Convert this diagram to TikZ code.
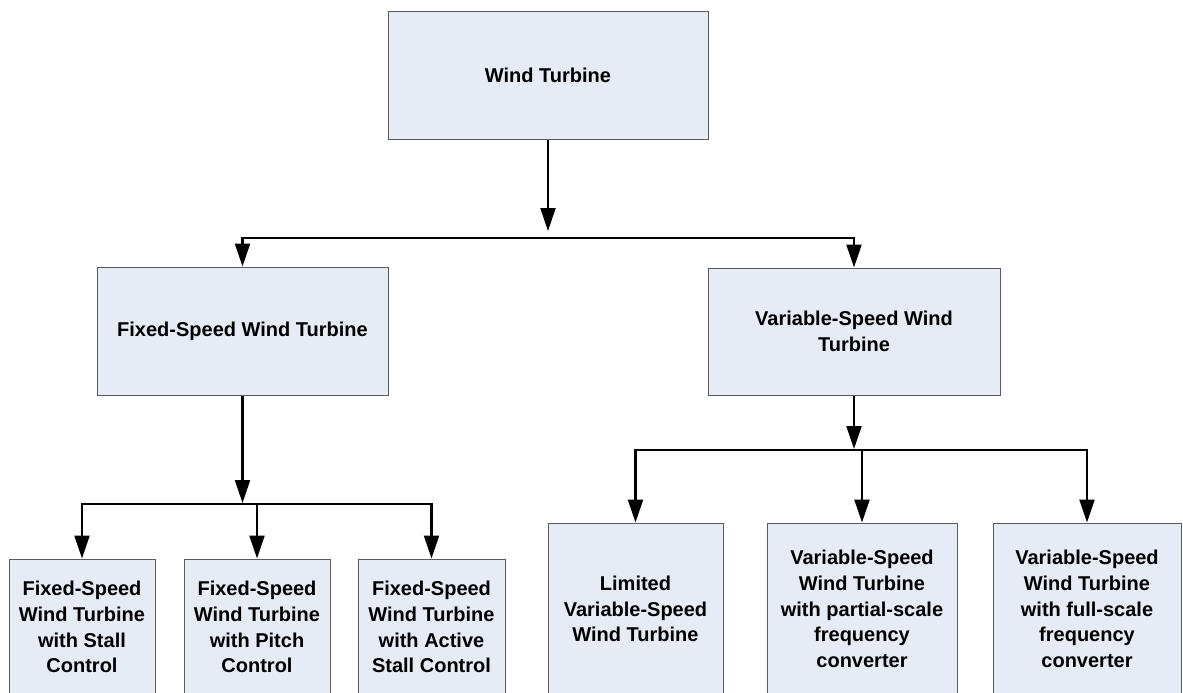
\documentclass[tikz,border=0pt]{standalone}
\usepackage{fontspec}
\setmainfont{Liberation Sans}
\usepackage{tikz}
\usetikzlibrary{arrows.meta}
\definecolor{boxfill}{RGB}{230,236,246}
\definecolor{boxline}{RGB}{90,90,90}

\begin{document}
\begin{tikzpicture}[x=1pt, y=-1pt, >={Triangle[length=23pt, width=15pt]},
  typebox/.style={draw=boxline, line width=1pt, fill=boxfill, align=center,
    inner sep=0pt, font=\fontsize{20}{25.7}\selectfont\bfseries},
  link/.style={->, line width=2.2pt}]

  \useasboundingbox (0,0) rectangle (1183,693);

  % ── top level ────────────────────────────────────────────────────────────
  \node[typebox, minimum width=320pt, minimum height=127pt] (wt) at (548,75.5)
    {Wind Turbine};

  % ── second level ─────────────────────────────────────────────────────────
  \node[typebox, minimum width=291pt, minimum height=128pt] (fs) at (242.5,331)
    {Fixed-Speed Wind Turbine};
  \node[typebox, minimum width=292pt, minimum height=127pt] (vs) at (854,331.5)
    {Variable-Speed Wind\\Turbine};

  % ── fixed-speed types (bottom edge runs off the page) ────────────────────
  \node[typebox, minimum width=146pt, minimum height=136pt] (fsStall) at (82,627)
    {Fixed-Speed\\Wind Turbine\\with Stall\\Control};
  \node[typebox, minimum width=146pt, minimum height=136pt] (fsPitch) at (257,627)
    {Fixed-Speed\\Wind Turbine\\with Pitch\\Control};
  \node[typebox, minimum width=147pt, minimum height=136pt] (fsActive) at (431.5,627)
    {Fixed-Speed\\Wind Turbine\\with Active\\Stall Control};

  % ── variable-speed types ─────────────────────────────────────────────────
  \node[typebox, minimum width=175pt, minimum height=172pt] (vsLimited) at (635.5,609)
    {Limited\\Variable-Speed\\Wind Turbine};
  \node[typebox, minimum width=190pt, minimum height=172pt] (vsPartial) at (862,609)
    {Variable-Speed\\Wind Turbine\\with partial-scale\\frequency\\converter};
  \node[typebox, minimum width=188pt, minimum height=172pt] (vsFull) at (1087,609)
    {Variable-Speed\\Wind Turbine\\with full-scale\\frequency\\converter};

  % ── branching points ─────────────────────────────────────────────────────
  \coordinate (jTop) at (548,238);
  \coordinate (jFixed) at (242.5,504);
  \coordinate (jVar) at (854,450);

  % ── connectors ───────────────────────────────────────────────────────────
  \draw[link, shorten >=7pt] (wt) -- (jTop);
  \draw[link] (jTop) -| (fs.north);
  \draw[link] (jTop) -| (vs.north);

  \draw[link, shorten >=1pt] (fs) -- (jFixed);
  \draw[link] (jFixed) -| (fsStall.north);
  \draw[link] (jFixed) -| (fsPitch.north);
  \draw[link] (jFixed) -| (fsActive.north);

  \draw[link, shorten >=1pt] (vs) -- (jVar);
  \draw[link] (jVar) -| (vsLimited.north);
  \draw[link] (jVar) -| (vsPartial.north);
  \draw[link] (jVar) -| (vsFull.north);

\end{tikzpicture}
\end{document}
